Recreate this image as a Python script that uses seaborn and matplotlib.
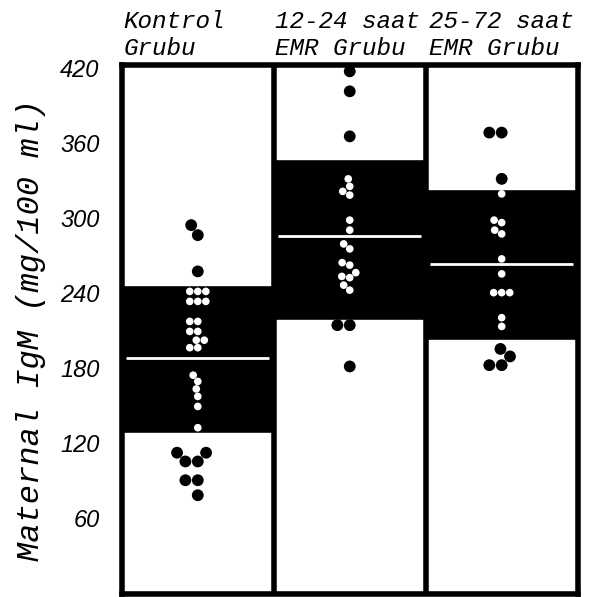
import numpy as np
import pandas as pd
import seaborn as sns
import matplotlib.pyplot as plt
from matplotlib.transforms import blended_transform_factory

groups = ["Kontrol\nGrubu", "12-24 saat\nEMR Grubu", "25-72 saat\nEMR Grubu"]

# individual IgM values (mg/100 ml)
kontrol = [294, 286, 257,
           241, 241, 241, 233, 233, 233, 217, 217, 209, 209, 202, 202, 196, 196,
           174, 169, 163, 157, 149, 132,
           112, 112, 105, 105, 90, 90, 78]
emr_12_24 = [417, 401, 365,
             331, 325, 321, 318, 298, 290, 279, 275, 264, 262, 256, 253, 252, 246, 242,
             214, 214, 181]
emr_25_72 = [368, 368, 331,
             319, 298, 296, 290, 287, 267, 255, 240, 240, 240, 220, 213,
             195, 189, 182, 182]

# mean and the shaded band (mean +/- SD)
means = [188, 285, 263]
band_low = [128, 218, 202]
band_high = [246, 347, 323]

yticks = [60, 120, 180, 240, 300, 360, 420]

mono = "Liberation Mono"

sns.set_style("white")
plt.rcParams.update({"text.color": "black", "axes.labelcolor": "black",
                     "ytick.color": "black", "xtick.color": "black"})

rows = []
for i, vals in enumerate([kontrol, emr_12_24, emr_25_72]):
    for v in vals:
        inside = band_low[i] <= v <= band_high[i]
        rows.append({"grup": i, "igm": v, "konum": "ic" if inside else "dis"})
df = pd.DataFrame(rows)

fig = plt.figure(figsize=(6.03, 5.97), dpi=100)
ax = fig.add_axes([0.202, 0.005, 0.756, 0.886])

x = np.arange(len(groups))
heights = np.array(band_high) - np.array(band_low)
ax.bar(x, heights, bottom=band_low, width=1.0, color="black", zorder=1)
ax.hlines(means, x - 0.47, x + 0.47, colors="white", lw=2, zorder=2)

sns.swarmplot(data=df, x="grup", y="igm", hue="konum", native_scale=True,
              palette={"ic": "white", "dis": "black"}, size=8.5, linewidth=0,
              legend=False, ax=ax, zorder=3)

# white dots inside the band are smaller
for coll in ax.collections:
    fc = coll.get_facecolors()
    if len(fc) == 0:
        continue
    n = len(coll.get_offsets())
    if len(fc) == 1:
        fc = np.repeat(fc, n, axis=0)
    coll.set_sizes(np.where(fc[:, 0] > 0.5, 5.5 ** 2, 8.5 ** 2))

for b in [0.5, 1.5]:
    ax.axvline(b, color="black", lw=4, zorder=4)

ax.set_xlim(-0.5, 2.5)
ax.set_ylim(-1, 422)
ax.set_xticks([])
ax.set_xlabel("")
ax.set_yticks(yticks)
ax.set_yticklabels([str(t) for t in yticks], fontsize=17, style="italic",
                   family="Liberation Sans")
ax.tick_params(axis="y", direction="out", length=8, width=2, pad=8)
for sp in ax.spines.values():
    sp.set_linewidth(4)
    sp.set_color("black")
    sp.set_zorder(5)

ax.set_ylabel("Maternal IgM (mg/100 ml)", fontsize=23, family=mono,
              style="italic", labelpad=10)

trans = blended_transform_factory(ax.transData, ax.transAxes)
label_x = [-0.49, 0.505, 1.52]
for lx, g in zip(label_x, groups):
    ax.text(lx, 1.01, g, transform=trans, ha="left", va="bottom",
            fontsize=17.5, family=mono, style="italic", linespacing=1.2)

fig.savefig("out.png", dpi=100)
